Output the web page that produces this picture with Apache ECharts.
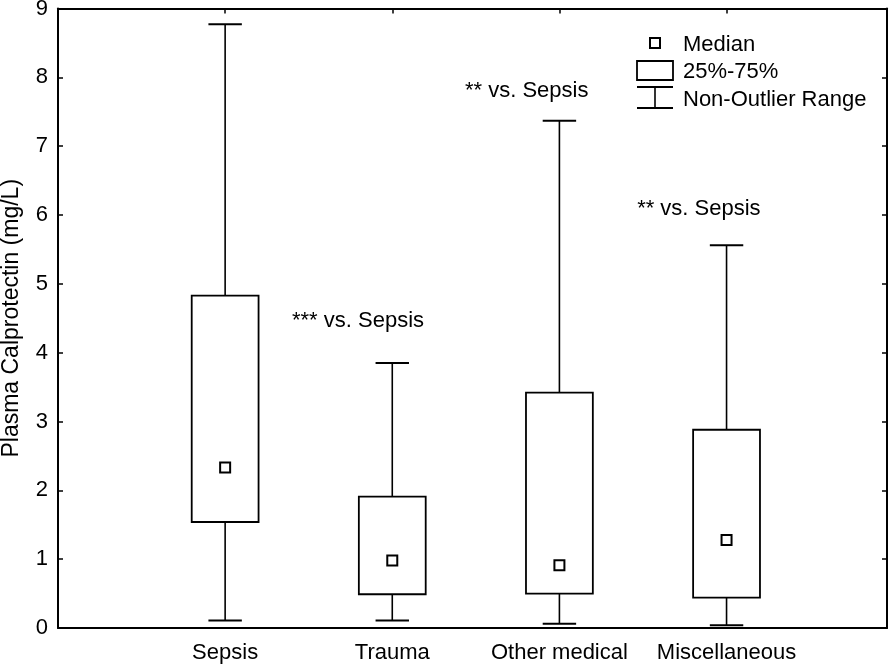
<!DOCTYPE html>
<html>
<head>
<meta charset="utf-8">
<script src="https://cdn.jsdelivr.net/npm/echarts@6/dist/echarts.min.js"></script>
<style>
html,body{margin:0;padding:0;background:#fff;}
#chart{width:894px;height:664px;}
</style>
</head>
<body>
<div id="chart"></div>
<script>
// ---- data ----
const categories = ['Sepsis', 'Trauma', 'Other medical', 'Miscellaneous'];
const whiskerMin = [0.11, 0.11, 0.06, 0.04];
const q1 = [1.54, 0.49, 0.50, 0.44];
const median = [2.33, 0.98, 0.91, 1.28];
const q3 = [4.83, 1.91, 3.42, 2.88];
const whiskerMax = [8.77, 3.85, 7.37, 5.56];
const yTicks = [0, 1, 2, 3, 4, 5, 6, 7, 8, 9];
const annotText = ['*** vs. Sepsis', '** vs. Sepsis', '** vs. Sepsis'];
const annotX = [1.40, 2.435, 3.465];
const annotY = [4.46, 7.80, 6.09];
const legendLabels = ['Median', '25%-75%', 'Non-Outlier Range'];

// ---- chart ----
const FONT = "'Liberation Sans', Arial, Helvetica, sans-serif";
const chart = echarts.init(document.getElementById('chart'), null, {renderer: 'canvas'});

const boxData = categories.map((c, i) => [i + 1, whiskerMin[i], q1[i], median[i], q3[i], whiskerMax[i]]);
const annotData = annotText.map((t, i) => [annotX[i], annotY[i], t]);

const lineStyle = {stroke: '#000', lineWidth: 1.6, fill: null};

function renderBox(params, api) {
  const x = api.value(0);
  const lo = api.coord([x, api.value(1)]);
  const b1 = api.coord([x, api.value(2)]);
  const md = api.coord([x, api.value(3)]);
  const b3 = api.coord([x, api.value(4)]);
  const hi = api.coord([x, api.value(5)]);
  const boxW = api.size([0.4, 0])[0];
  const capW = api.size([0.2, 0])[0];
  const cx = lo[0];
  return {
    type: 'group',
    children: [
      {type: 'line', shape: {x1: cx, y1: lo[1], x2: cx, y2: b1[1]}, style: lineStyle},
      {type: 'line', shape: {x1: cx, y1: b3[1], x2: cx, y2: hi[1]}, style: lineStyle},
      {type: 'line', shape: {x1: cx - capW / 2, y1: lo[1], x2: cx + capW / 2, y2: lo[1]}, style: {stroke: '#000', lineWidth: 2}},
      {type: 'line', shape: {x1: cx - capW / 2, y1: hi[1], x2: cx + capW / 2, y2: hi[1]}, style: {stroke: '#000', lineWidth: 2}},
      {type: 'rect', shape: {x: cx - boxW / 2, y: b3[1], width: boxW, height: b1[1] - b3[1]}, style: {stroke: '#000', lineWidth: 1.8, fill: '#fff'}},
      {type: 'rect', shape: {x: cx - 5, y: md[1] - 5, width: 10, height: 10}, style: {stroke: '#000', lineWidth: 2, fill: '#fff'}}
    ]
  };
}

function renderAnnot(params, api) {
  const p = api.coord([api.value(0), api.value(1)]);
  return {
    type: 'text',
    style: {
      x: p[0], y: p[1], text: annotData[params.dataIndex][2],
      font: '22px ' + FONT, fill: '#000', align: 'left', verticalAlign: 'middle'
    }
  };
}

const axisLine = {show: true, onZero: false, lineStyle: {color: '#000', width: 2}};
const inTick = {show: true, inside: true, length: 5, lineStyle: {color: '#000', width: 1.5}};

const option = {
  backgroundColor: '#fff',
  animation: false,
  grid: {left: 58, right: 7, top: 8.5, bottom: 36, containLabel: false, outerBoundsMode: 'none'},
  xAxis: [
    {
      type: 'value', position: 'bottom', min: 0, max: 4.96, interval: 1,
      axisLine: axisLine, axisTick: {show: false}, splitLine: {show: false},
      axisLabel: {
        show: true, margin: 14, fontSize: 22, fontFamily: FONT, color: '#000',
        showMaxLabel: false, showMinLabel: false,
        formatter: v => (Number.isInteger(v) && categories[v - 1]) ? categories[v - 1] : ''
      }
    },
    {
      type: 'value', position: 'top', min: 0, max: 4.96, interval: 1,
      axisLine: axisLine, axisTick: inTick,
      splitLine: {show: false}, axisLabel: {show: false}
    }
  ],
  yAxis: [
    {
      type: 'value', position: 'left', min: yTicks[0], max: yTicks[yTicks.length - 1], interval: 1,
      name: 'Plasma Calprotectin (mg/L)', nameLocation: 'middle', nameGap: 35, nameRotate: 90,
      nameTextStyle: {fontSize: 23, fontFamily: FONT, color: '#000'},
      axisLine: axisLine, axisTick: inTick,
      splitLine: {show: false},
      axisLabel: {show: true, margin: 10, fontSize: 22, fontFamily: FONT, color: '#000'}
    },
    {
      type: 'value', position: 'right', min: yTicks[0], max: yTicks[yTicks.length - 1], interval: 1,
      axisLine: axisLine, axisTick: inTick,
      splitLine: {show: false}, axisLabel: {show: false}
    }
  ],
  series: [
    {type: 'custom', name: 'box', xAxisIndex: 0, yAxisIndex: 0, renderItem: renderBox, data: boxData, clip: false, z: 5},
    {type: 'custom', name: 'annot', xAxisIndex: 0, yAxisIndex: 0, renderItem: renderAnnot, data: annotData, clip: false, z: 6}
  ],
  graphic: [
    {type: 'rect', shape: {x: 650, y: 38, width: 10, height: 10}, style: {stroke: '#000', lineWidth: 2, fill: '#fff'}},
    {type: 'text', style: {x: 683, y: 45, text: legendLabels[0], font: '22px ' + FONT, fill: '#000', verticalAlign: 'middle'}},
    {type: 'rect', shape: {x: 637, y: 61, width: 36, height: 19}, style: {stroke: '#000', lineWidth: 1.8, fill: '#fff'}},
    {type: 'text', style: {x: 683, y: 72, text: legendLabels[1], font: '22px ' + FONT, fill: '#000', verticalAlign: 'middle'}},
    {type: 'line', shape: {x1: 637, y1: 87, x2: 673, y2: 87}, style: {stroke: '#000', lineWidth: 1.8}},
    {type: 'line', shape: {x1: 637, y1: 108, x2: 673, y2: 108}, style: {stroke: '#000', lineWidth: 1.8}},
    {type: 'line', shape: {x1: 655, y1: 87, x2: 655, y2: 108}, style: {stroke: '#000', lineWidth: 1.6}},
    {type: 'text', style: {x: 683, y: 100, text: legendLabels[2], font: '22px ' + FONT, fill: '#000', verticalAlign: 'middle'}}
  ]
};
chart.setOption(option);
</script>
</body>
</html>
